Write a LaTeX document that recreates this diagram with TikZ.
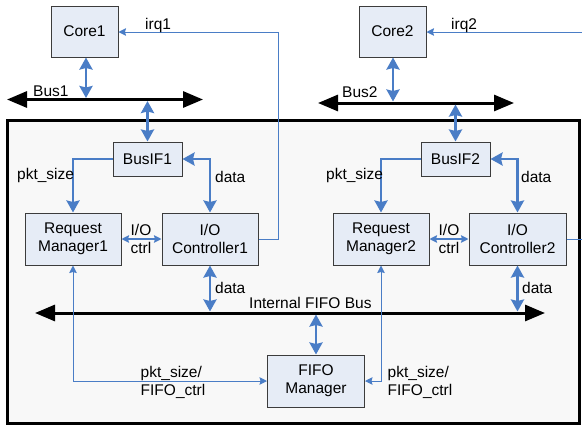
\documentclass[tikz,border=0pt]{standalone}
\usepackage{fontspec}
\setmainfont{Liberation Sans}
\usetikzlibrary{arrows.meta}
\definecolor{linkblue}{HTML}{4A7DC6}
\definecolor{boxfill}{HTML}{E6ECF6}
\definecolor{boxline}{HTML}{3C3C3C}
\definecolor{panel}{HTML}{F8F8F8}
\begin{document}
\begin{tikzpicture}[x=1pt,y=-1pt,
  txt/.style={font=\fontsize{15.5}{18}\selectfont},
  block/.style={txt, draw=boxline, line width=1pt, fill=boxfill, align=center, inner sep=0pt},
  lbl/.style={txt, inner sep=0pt, align=left},
  fattip/.tip={Stealth[length=12pt,width=13pt,inset=1.5pt]},
  thintip/.tip={Stealth[length=7.5pt,width=7.5pt,inset=1pt]},
  bustip/.tip={Triangle[length=20pt,width=16pt]},
  fat/.style={draw=linkblue, line width=2.8pt, -fattip},
  fatboth/.style={draw=linkblue, line width=2.8pt, fattip-fattip},
  thin/.style={draw=linkblue, line width=1pt, -thintip},
  thinboth/.style={draw=linkblue, line width=1pt, thintip-thintip},
  ctrlboth/.style={draw=linkblue, line width=1.6pt, thintip-thintip},
  bus/.style={draw=black, line width=3pt, bustip-bustip}
]
\useasboundingbox (0,0) rectangle (582,424);

% subsystem panel
\node[draw=black, line width=2.5pt, fill=panel, minimum width=572pt, minimum height=303pt,
      inner sep=0pt, anchor=north west] (chip) at (6,119) {};

% processor cores
\node[block, minimum width=67pt, minimum height=51pt] (core1) at (84.5,31.5) {Core1};
\node[block, minimum width=67pt, minimum height=51pt] (core2) at (392.5,31.5) {Core2};

% bus interfaces
\node[block, minimum width=69pt, minimum height=34pt] (busif1) at (147.5,159) {BusIF1};
\node[block, minimum width=69pt, minimum height=34pt] (busif2) at (455.5,159) {BusIF2};

% managers and controllers
\node[block, minimum width=96pt, minimum height=52pt] (rm1) at (73,239) {Request\\Manager1};
\node[block, minimum width=96pt, minimum height=52pt] (c1) at (210,239) {I/O\\Controller1};
\node[block, minimum width=96pt, minimum height=52pt] (rm2) at (381,239) {Request\\Manager2};
\node[block, minimum width=97pt, minimum height=52pt] (c2) at (517.5,239) {I/O\\Controller2};
\node[block, minimum width=97pt, minimum height=52pt] (fifo) at (316,381) {FIFO\\Manager};

% buses
\coordinate (bus1w) at (7,99.5);
\coordinate (bus1e) at (203,99.5);
\coordinate (bus2w) at (318,103);
\coordinate (bus2e) at (514,103);
\coordinate (fbw) at (35,313);
\coordinate (fbe) at (545,313);
\draw[bus] (bus1w) -- (bus1e);
\draw[bus] (bus2w) -- (bus2e);
\draw[bus] (fbw) -- (fbe);

% core <-> bus <-> bus interface
\draw[fatboth, shorten >=1.5pt] ([xshift=1.5pt]core1.south) -- ([xshift=1.5pt]core1.south |- bus1w);
\draw[fatboth, shorten <=1.5pt] (busif1.north |- bus1w) -- (busif1.north);
\draw[fatboth, shorten >=1.5pt] ([xshift=0.5pt]core2.south) -- ([xshift=0.5pt]core2.south |- bus2w);
\draw[fatboth, shorten <=1.5pt] (busif2.north |- bus2w) -- (busif2.north);

% bus interface -> request manager / controller
\draw[fat] (busif1.west) -| (rm1.north);
\draw[fatboth] (busif1.east) -| (c1.north);
\draw[fat] (busif2.west) -| (rm2.north);
\draw[fatboth] (busif2.east) -| (c2.north);

% I/O control between request manager and controller
\draw[ctrlboth] (rm1.east) -- (c1.west);
\draw[ctrlboth] (rm2.east) -- (c2.west);

% controllers <-> internal FIFO bus
\draw[fatboth, shorten >=1.5pt] (c1.south) -- (c1.south |- fbw);
\draw[fatboth, shorten >=1.5pt] (c2.south) -- (c2.south |- fbw);
\draw[fatboth, shorten <=1.5pt] (fifo.north |- fbw) -- (fifo.north);

% request managers <-> FIFO manager
\draw[thinboth] (rm1.south) |- (fifo.west);
\draw[thinboth] (rm2.south) |- (fifo.east);

% interrupt lines
\coordinate (irq1turn) at (278,32);
\coordinate (irq2in) at (582,32);
\coordinate (c2out) at (582,239);
\draw[thin] (c1.east) -| (irq1turn) -- (core1.east |- irq1turn);
\draw[thin] (irq2in) -- (core2.east |- irq2in);
\draw[draw=linkblue, line width=1pt] (c2.east) -- (c2out);

% labels
\node[lbl, anchor=base west] (lirq1) at (145,29) {irq1};
\node[lbl, anchor=base west] (lirq2) at (451,29) {irq2};
\node[lbl, anchor=base west] (lbus1) at (33,96.5) {Bus1};
\node[lbl, anchor=base west] (lbus2) at (342,97) {Bus2};
\node[lbl, anchor=base west] (lpkt1) at (17,179) {pkt\_size};
\node[lbl, anchor=base west] (lpkt2) at (326,179) {pkt\_size};
\node[lbl, anchor=base west] (ldat1) at (215,182) {data};
\node[lbl, anchor=base west] (ldat2) at (521,182) {data};
\node[lbl, anchor=base west] (ldat3) at (215,293) {data};
\node[lbl, anchor=base west] (ldat4) at (522,293) {data};
\node[lbl, align=center] (lctl1) at (141,239) {I/O\\ctrl};
\node[lbl, align=center] (lctl2) at (449,239) {I/O\\ctrl};
\node[lbl, anchor=base west] (lfbus) at (249,308) {Internal FIFO Bus};
\node[lbl] (lfc1) at (173,382) {pkt\_size/\\FIFO\_ctrl};
\node[lbl] (lfc2) at (420,382) {pkt\_size/\\FIFO\_ctrl};
\end{tikzpicture}
\end{document}
